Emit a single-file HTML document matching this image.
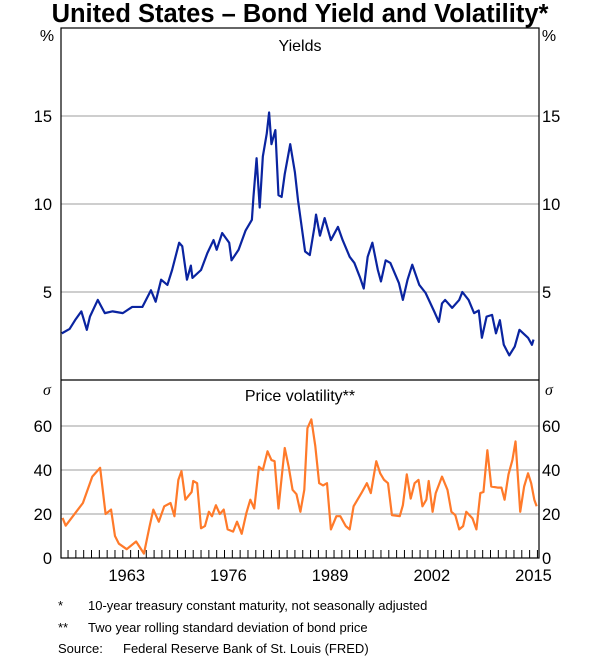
<!DOCTYPE html>
<html><head><meta charset="utf-8"><style>
body{margin:0;background:#fff;}
svg{display:block;font-family:"Liberation Sans",Arial,sans-serif;}
</style></head><body>
<svg id="chart" width="600" height="660" viewBox="0 0 600 660">
<text x="300" y="22" text-anchor="middle" font-size="25.5" font-weight="bold">United States – Bond Yield and Volatility*</text>
<g id="grid"></g>
<g id="series"></g>
<rect x="61" y="28" width="478" height="530" fill="none" stroke="#000" stroke-width="1.2"/>
<line x1="61" y1="380" x2="539" y2="380" stroke="#000" stroke-width="1.2"/>
<g id="ticks"></g>
<g id="labels" font-size="16.5"></g>
<text x="300" y="51" text-anchor="middle" font-size="16">Yields</text>
<text x="300" y="401" text-anchor="middle" font-size="16">Price volatility**</text>
<text x="47" y="41" text-anchor="middle" font-size="16">%</text>
<text x="549" y="41" text-anchor="middle" font-size="16">%</text>
<text x="47" y="395" text-anchor="middle" font-size="16" font-style="italic" font-family="Liberation Serif,serif">σ</text>
<text x="549" y="395" text-anchor="middle" font-size="16" font-style="italic" font-family="Liberation Serif,serif">σ</text>
<g font-size="13">
<text x="58" y="610">*</text>
<text x="88" y="610">10-year treasury constant maturity, not seasonally adjusted</text>
<text x="58" y="632">**</text>
<text x="88" y="632">Two year rolling standard deviation of bond price</text>
<text x="58" y="653">Source:</text>
<text x="123" y="653">Federal Reserve Bank of St. Louis (FRED)</text>
</g>
</svg>
<script>
const yieldYears=[1954.7,1955.7,1956.4,1957.2,1957.9,1958.3,1959.3,1960.2,1961.2,1962.5,1963.7,1965.0,1966.1,1966.7,1967.4,1968.2,1968.8,1969.7,1970.1,1970.7,1971.2,1971.4,1972.5,1973.3,1974.1,1974.5,1975.2,1976.1,1976.4,1977.3,1978.2,1979.0,1979.2,1979.6,1980.0,1980.4,1980.9,1981.2,1981.5,1982.0,1982.4,1982.8,1983.2,1983.9,1984.5,1984.9,1985.8,1986.4,1987.0,1987.2,1987.7,1988.3,1989.1,1990.0,1990.6,1991.5,1992.1,1992.8,1993.3,1993.8,1994.4,1995.1,1995.5,1996.1,1996.7,1997.8,1998.3,1998.9,1999.5,2000.4,2001.2,2002.3,2002.9,2003.3,2003.7,2004.6,2005.5,2005.9,2006.7,2007.4,2008.0,2008.4,2009.0,2009.7,2010.2,2010.7,2011.2,2011.9,2012.6,2013.2,2014.3,2014.8,2015.0];
const yieldValues=[2.65,2.9,3.4,3.9,2.85,3.6,4.55,3.8,3.9,3.8,4.15,4.15,5.1,4.45,5.7,5.4,6.25,7.8,7.6,5.7,6.5,5.8,6.25,7.2,7.95,7.4,8.35,7.8,6.8,7.4,8.5,9.1,10.4,12.6,9.8,12.7,14.0,15.2,13.4,14.2,10.5,10.4,11.7,13.4,11.8,10.2,7.3,7.1,8.7,9.4,8.2,9.2,7.95,8.7,7.95,7.0,6.65,5.85,5.2,7.0,7.8,6.25,5.6,6.8,6.65,5.5,4.55,5.7,6.55,5.4,4.95,3.9,3.3,4.35,4.55,4.1,4.55,5.0,4.55,3.8,3.95,2.4,3.6,3.7,2.65,3.4,2.0,1.4,1.9,2.85,2.4,2.0,2.3];
const volYears=[1954.8,1955.2,1957.4,1958.6,1959.6,1960.3,1961.0,1961.5,1962.0,1963.0,1964.2,1965.2,1965.9,1966.4,1967.1,1967.8,1968.6,1969.1,1969.6,1970.0,1970.5,1971.3,1971.5,1972.0,1972.5,1973.0,1973.5,1973.9,1974.4,1974.9,1975.4,1975.9,1976.6,1977.1,1977.7,1978.3,1978.8,1979.3,1979.9,1980.4,1981.0,1981.5,1981.9,1982.4,1982.7,1983.2,1983.7,1984.2,1984.7,1985.2,1985.7,1986.1,1986.6,1987.1,1987.6,1988.1,1988.6,1989.1,1989.8,1990.3,1991.0,1991.5,1992.0,1992.5,1993.0,1993.7,1994.2,1994.9,1995.4,1995.9,1996.4,1996.9,1997.9,1998.3,1998.8,1999.3,1999.8,2000.3,2000.8,2001.3,2001.6,2002.1,2002.5,2003.3,2004.0,2004.5,2005.0,2005.5,2006.0,2006.4,2007.2,2007.7,2008.2,2008.6,2009.1,2009.6,2010.4,2010.9,2011.3,2011.8,2012.3,2012.7,2013.3,2013.8,2014.3,2014.7,2015.1,2015.4];
const volValues=[18.2,14.7,25,37,41,20,22,10,6.5,4,7.5,2,14,22,16.5,23.5,25,19,35.5,39.5,26.5,30,35,34,13.5,14.5,21,19,24,20,22,13,12,16.5,11,20.5,26.5,22.5,41.5,40,48.5,44.5,44,22.5,33,50,41.5,31,29,21,31,59,63,51,34,33,34,13,19,19,14.5,13,23.5,26.5,29.5,34,29.5,44,38.5,35.5,34,19.5,19,24,38,27,34,35.5,23.5,26.5,35,21,29.5,37,31,21,19.5,13,14.5,21,18,13,29.5,30,49,32.5,32,32,26.5,38,44.5,53,21,32.5,38.5,34,26.5,23.5];
const yieldTicks=[5,10,15];
const volTicks=[0,20,40,60];
const yearLabels=[1963,1976,1989,2002,2015];

const NS="http://www.w3.org/2000/svg";
const L=61,R=539,x0=1954.6,x1=2015.7;
const xS=t=>L+(t-x0)/(x1-x0)*(R-L);
const yTop=v=>380-v/20*352;
const yBot=v=>558-v/80*176;
function mk(tag,attrs,parent){const e=document.createElementNS(NS,tag);for(const k in attrs)e.setAttribute(k,attrs[k]);document.getElementById(parent).appendChild(e);return e;}

yieldTicks.forEach(v=>{
  const g=mk('line',{x1:L,x2:R,y1:yTop(v),y2:yTop(v),stroke:'#b0b0b0','stroke-width':1.2},'grid');
  
  
  [[52,'end'],[542,'start']].forEach(([x,a])=>{
    const t=mk('text',{x:x,y:yTop(v)+6,'text-anchor':a},'labels');t.textContent=v;
    
    
  });
});
volTicks.forEach(v=>{
  if(v>0){
    const g=mk('line',{x1:L,x2:R,y1:yBot(v),y2:yBot(v),stroke:'#b0b0b0','stroke-width':1.2},'grid');
    
    
  }
  [[52,'end'],[542,'start']].forEach(([x,a])=>{
    const t=mk('text',{x:x,y:yBot(v)+6,'text-anchor':a},'labels');t.textContent=v;
    
    
  });
});
for(let y=1955;y<=2015;y++){
  const t=mk('line',{x1:xS(y+0.5),x2:xS(y+0.5),y1:558,y2:550,stroke:'#000','stroke-width':1},'ticks');
  
  
}
yearLabels.forEach(y=>{
  const t=mk('text',{x:xS(y),y:581,'text-anchor':'middle'},'labels');t.textContent=y;
  
  
});
const yp=mk('polyline',{points:yieldYears.map((t,i)=>xS(t)+','+yTop(yieldValues[i])).join(' '),fill:'none',stroke:'#0a24a0','stroke-width':2.2,'stroke-linejoin':'round'},'series');


const vp=mk('polyline',{points:volYears.map((t,i)=>xS(t)+','+yBot(volValues[i])).join(' '),fill:'none',stroke:'#ff7a2a','stroke-width':2.2,'stroke-linejoin':'round'},'series');


</script>
</body></html>
